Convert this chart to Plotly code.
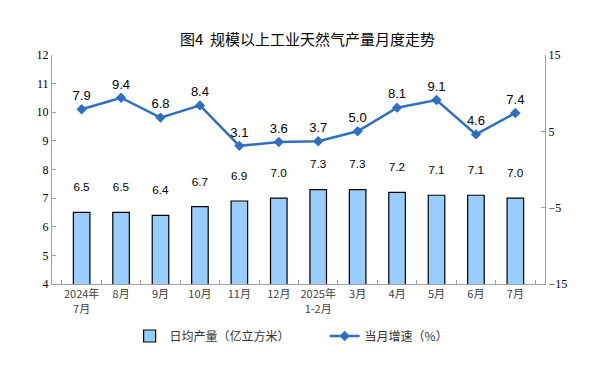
import plotly.graph_objects as go

categories = ["2024年<br>7月", "8月", "9月", "10月", "11月", "12月", "2025年<br>1-2月",
              "3月", "4月", "5月", "6月", "7月"]
daily_output = [6.5, 6.5, 6.4, 6.7, 6.9, 7.0, 7.3, 7.3, 7.2, 7.1, 7.1, 7.0]
growth = [7.9, 9.4, 6.8, 8.4, 3.1, 3.6, 3.7, 5.0, 8.1, 9.1, 4.6, 7.4]
left_ticks = [4, 5, 6, 7, 8, 9, 10, 11, 12]
right_ticks = [-15, -5, 5, 15]

fig = go.Figure()
fig.add_trace(go.Bar(
    x=categories, y=daily_output, name="日均产量（亿立方米）\u3000\u3000\u3000",
    marker=dict(color="#99CCFF", line=dict(color="#000000", width=1.2)),
    width=0.42,
    text=[f"{v:.1f}<br> " for v in daily_output], textposition="outside",
    textfont=dict(family="Liberation Sans, Arial", size=12, color="#000000"),
    cliponaxis=False,
))
fig.add_trace(go.Scatter(
    x=categories, y=growth, name="当月增速（%）", yaxis="y2",
    mode="lines+markers+text",
    line=dict(color="#2E6FBF", width=2.5),
    marker=dict(symbol="diamond", size=8, color="#2E6FBF"),
    text=[f"{v:.1f}" for v in growth], textposition="top center",
    textfont=dict(family="Liberation Sans, Arial", size=13, color="#000000"),
    cliponaxis=False,
))

fig.update_layout(
    width=599, height=374,
    margin=dict(l=44, r=62, t=47, b=98, autoexpand=False),
    paper_bgcolor="white", plot_bgcolor="white",
    title=dict(text="图4  规模以上工业天然气产量月度走势", x=0.5, xanchor="center",
               y=0.914, yanchor="middle",
               font=dict(family="Noto Sans CJK SC", size=15, color="#000000")),
    showlegend=True,
    legend=dict(orientation="h", x=0.486, xanchor="center", y=-0.227, yanchor="middle",
                font=dict(family="Noto Sans CJK SC", size=12, color="#333333"),
                tracegroupgap=0),
    xaxis=dict(
        type="category", showline=True, linecolor="#A0A0A0", linewidth=1,
        ticks="inside", tickson="boundaries", ticklen=4, tickcolor="#A0A0A0",
        tickangle=0, automargin=False,
        tickfont=dict(family="Noto Sans CJK SC", size=11, color="#404040"),
        showgrid=False,
    ),
    yaxis=dict(
        range=[4, 12], tickvals=left_ticks, showline=True, linecolor="#A0A0A0", linewidth=1,
        ticks="inside", ticklen=4, tickcolor="#A0A0A0", showgrid=False, zeroline=False,
        automargin=False,
        tickfont=dict(family="Liberation Serif, Times New Roman", size=12, color="#000000"),
    ),
    yaxis2=dict(
        range=[-15, 15], tickvals=right_ticks, overlaying="y", side="right",
        showline=True, linecolor="#A0A0A0", linewidth=1,
        ticks="inside", ticklen=4, tickcolor="#A0A0A0", showgrid=False, zeroline=False,
        automargin=False,
        tickfont=dict(family="Liberation Serif, Times New Roman", size=12, color="#000000"),
    ),
)

fig.write_html("out.html")
